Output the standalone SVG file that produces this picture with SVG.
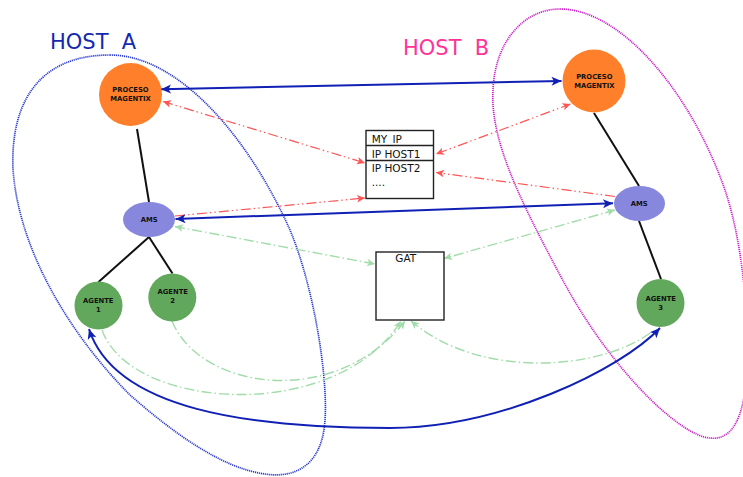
<svg xmlns="http://www.w3.org/2000/svg" width="743" height="477" viewBox="0 0 743 477">
<style>
.hostA{font-family:"DejaVu Sans",sans-serif;font-size:21px;fill:#1428b0;white-space:pre}
.hostB{font-family:"DejaVu Sans",sans-serif;font-size:21px;fill:#ff3399;white-space:pre}
.nt{font-family:"DejaVu Sans",sans-serif;font-weight:bold;font-size:6.8px;fill:#111;text-anchor:middle}
.tt{font-family:"DejaVu Sans",sans-serif;font-size:10.5px;fill:#111}
.pm{fill:#ff7f2a}
.ams{fill:#8787de}
.ag{fill:#62a85c}
.tree{stroke:#111;stroke-width:2;fill:none}
.blue{stroke:#1020b4;stroke-width:2;fill:none}
.red{stroke:#ff5555;stroke-width:1.2;fill:none;stroke-dasharray:10 3 1.5 3 1.5 3}
.green{stroke:#a3dcab;stroke-width:1.4;fill:none;stroke-dasharray:10 3 1.5 3}
.box{fill:#fff;stroke:#222;stroke-width:1.4}
.hull{fill:none;stroke-width:1.7;stroke-dasharray:1.2 0.8}
</style>
<defs>
<marker id="mb" viewBox="-12 -6 13 12" refX="0" refY="0" markerWidth="13" markerHeight="12" markerUnits="userSpaceOnUse" orient="auto-start-reverse"><path d="M0,0 L-10,-4.5 L-7.5,0 L-10,4.5 Z" fill="#1020b4"/></marker>
<marker id="mr" viewBox="-10 -5 11 10" refX="0" refY="0" markerWidth="11" markerHeight="10" markerUnits="userSpaceOnUse" orient="auto-start-reverse"><path d="M0,0 L-8,-3.8 L-6,0 L-8,3.8 Z" fill="#ff5555"/></marker>
<marker id="mg" viewBox="-10 -5 11 10" refX="0" refY="0" markerWidth="11" markerHeight="10" markerUnits="userSpaceOnUse" orient="auto-start-reverse"><path d="M0,0 L-8,-3.8 L-6,0 L-8,3.8 Z" fill="#a3dcab"/></marker>
</defs>
<rect width="743" height="477" fill="#fff"/>

<g id="hostA">
<path class="hull" d="M110,55 C180,55 250,140 290,230 C315,290 328,380 325,420 C322,470 290,478 265,474 C220,468 170,430 130,395 C80,345 20,260 13,170 C10,95 45,55 110,55 Z" stroke="#2a3acc"/>
<text class="hostA" x="50" y="48.5" xml:space="preserve">HOST  A</text>
</g>
<g id="hostB">
<path class="hull" d="M560,9 C620,9 690,90 725,190 C745,250 750,330 745,390 C740,430 725,440 710,438 C680,436 610,370 560,275 C520,200 490,140 493,90 C495,40 525,9 560,9 Z" stroke="#cc22cc"/>
<text class="hostB" x="403" y="54.5" xml:space="preserve">HOST  B</text>
</g>

<g id="connectors">
<line class="tree" x1="137" y1="129" x2="149" y2="202"/>
<line class="tree" x1="149" y1="237" x2="98.5" y2="282"/>
<line class="tree" x1="149" y1="237" x2="172.5" y2="273.5"/>
<line class="tree" x1="594" y1="113" x2="639" y2="186"/>
<line class="tree" x1="639" y1="221" x2="661" y2="279"/>

<line class="red" x1="163" y1="101.5" x2="365" y2="163" marker-start="url(#mr)" marker-end="url(#mr)"/>
<line class="red" x1="175" y1="216" x2="365" y2="198" marker-end="url(#mr)"/>
<line class="red" x1="570.5" y1="104" x2="436" y2="154" marker-start="url(#mr)" marker-end="url(#mr)"/>
<line class="red" x1="615" y1="196.5" x2="436" y2="172.5" marker-end="url(#mr)"/>

<line class="green" x1="175" y1="226.5" x2="375" y2="264" marker-start="url(#mg)" marker-end="url(#mg)"/>
<line class="green" x1="615" y1="210" x2="444" y2="258.5" marker-start="url(#mg)" marker-end="url(#mg)"/>
<path class="green" d="M102,330 C130,410 335,425 401,321" marker-end="url(#mg)"/>
<path class="green" d="M172,321 C200,390 335,410 405,321" marker-end="url(#mg)"/>
<path class="green" d="M650,333 C600,370 480,380 411,321" marker-end="url(#mg)"/>

<line class="blue" x1="161" y1="89.3" x2="561.5" y2="81" marker-start="url(#mb)" marker-end="url(#mb)"/>
<line class="blue" x1="175.5" y1="219" x2="613" y2="203.3" marker-start="url(#mb)" marker-end="url(#mb)"/>
<path class="blue" d="M89,329 C115,410 250,428 390,428 C500,428 620,370 660,328" marker-start="url(#mb)" marker-end="url(#mb)"/>
</g>

<g id="pmA">
<circle class="pm" cx="130.5" cy="94.5" r="31.5"/>
<text class="nt" x="130.5" y="92">PROCESO</text>
<text class="nt" x="130.5" y="101.3">MAGENTIX</text>
</g>
<g id="pmB">
<circle class="pm" cx="594" cy="81" r="31.5"/>
<text class="nt" x="594.3" y="78.5">PROCESO</text>
<text class="nt" x="594.3" y="87.7">MAGENTIX</text>
</g>
<g id="amsA">
<ellipse class="ams" cx="149" cy="219.5" rx="26" ry="17.5"/>
<text class="nt" x="149.3" y="221.7" font-size="6.3">AMS</text>
</g>
<g id="amsB">
<ellipse class="ams" cx="639.5" cy="203.5" rx="25.5" ry="17.5"/>
<text class="nt" x="639.3" y="205.7" font-size="6.3">AMS</text>
</g>
<g id="agente1">
<circle class="ag" cx="98.5" cy="305.5" r="24"/>
<text class="nt" x="98.3" y="302.5">AGENTE</text>
<text class="nt" x="98.3" y="311.7">1</text>
</g>
<g id="agente2">
<circle class="ag" cx="172.3" cy="297.5" r="24"/>
<text class="nt" x="172.7" y="294">AGENTE</text>
<text class="nt" x="172.7" y="303.3">2</text>
</g>
<g id="agente3">
<circle class="ag" cx="660.5" cy="303" r="24"/>
<text class="nt" x="660.7" y="300.7">AGENTE</text>
<text class="nt" x="660.7" y="310">3</text>
</g>
<g id="tabla">
<rect class="box" x="366" y="130.5" width="67.5" height="68"/>
<line x1="366" y1="145.5" x2="433.5" y2="145.5" stroke="#222" stroke-width="1.4"/>
<line x1="366" y1="160.5" x2="433.5" y2="160.5" stroke="#222" stroke-width="1.6"/>
<text class="tt" x="371.7" y="143.3">MY_IP</text>
<text class="tt" x="371.7" y="158">IP HOST1</text>
<text class="tt" x="371.7" y="172">IP HOST2</text>
<text class="tt" x="371.7" y="186">....</text>
</g>
<g id="gat">
<rect class="box" x="376" y="252" width="68" height="68"/>
<text class="tt" x="405.8" y="261.8" text-anchor="middle">GAT</text>
</g>
</svg>
